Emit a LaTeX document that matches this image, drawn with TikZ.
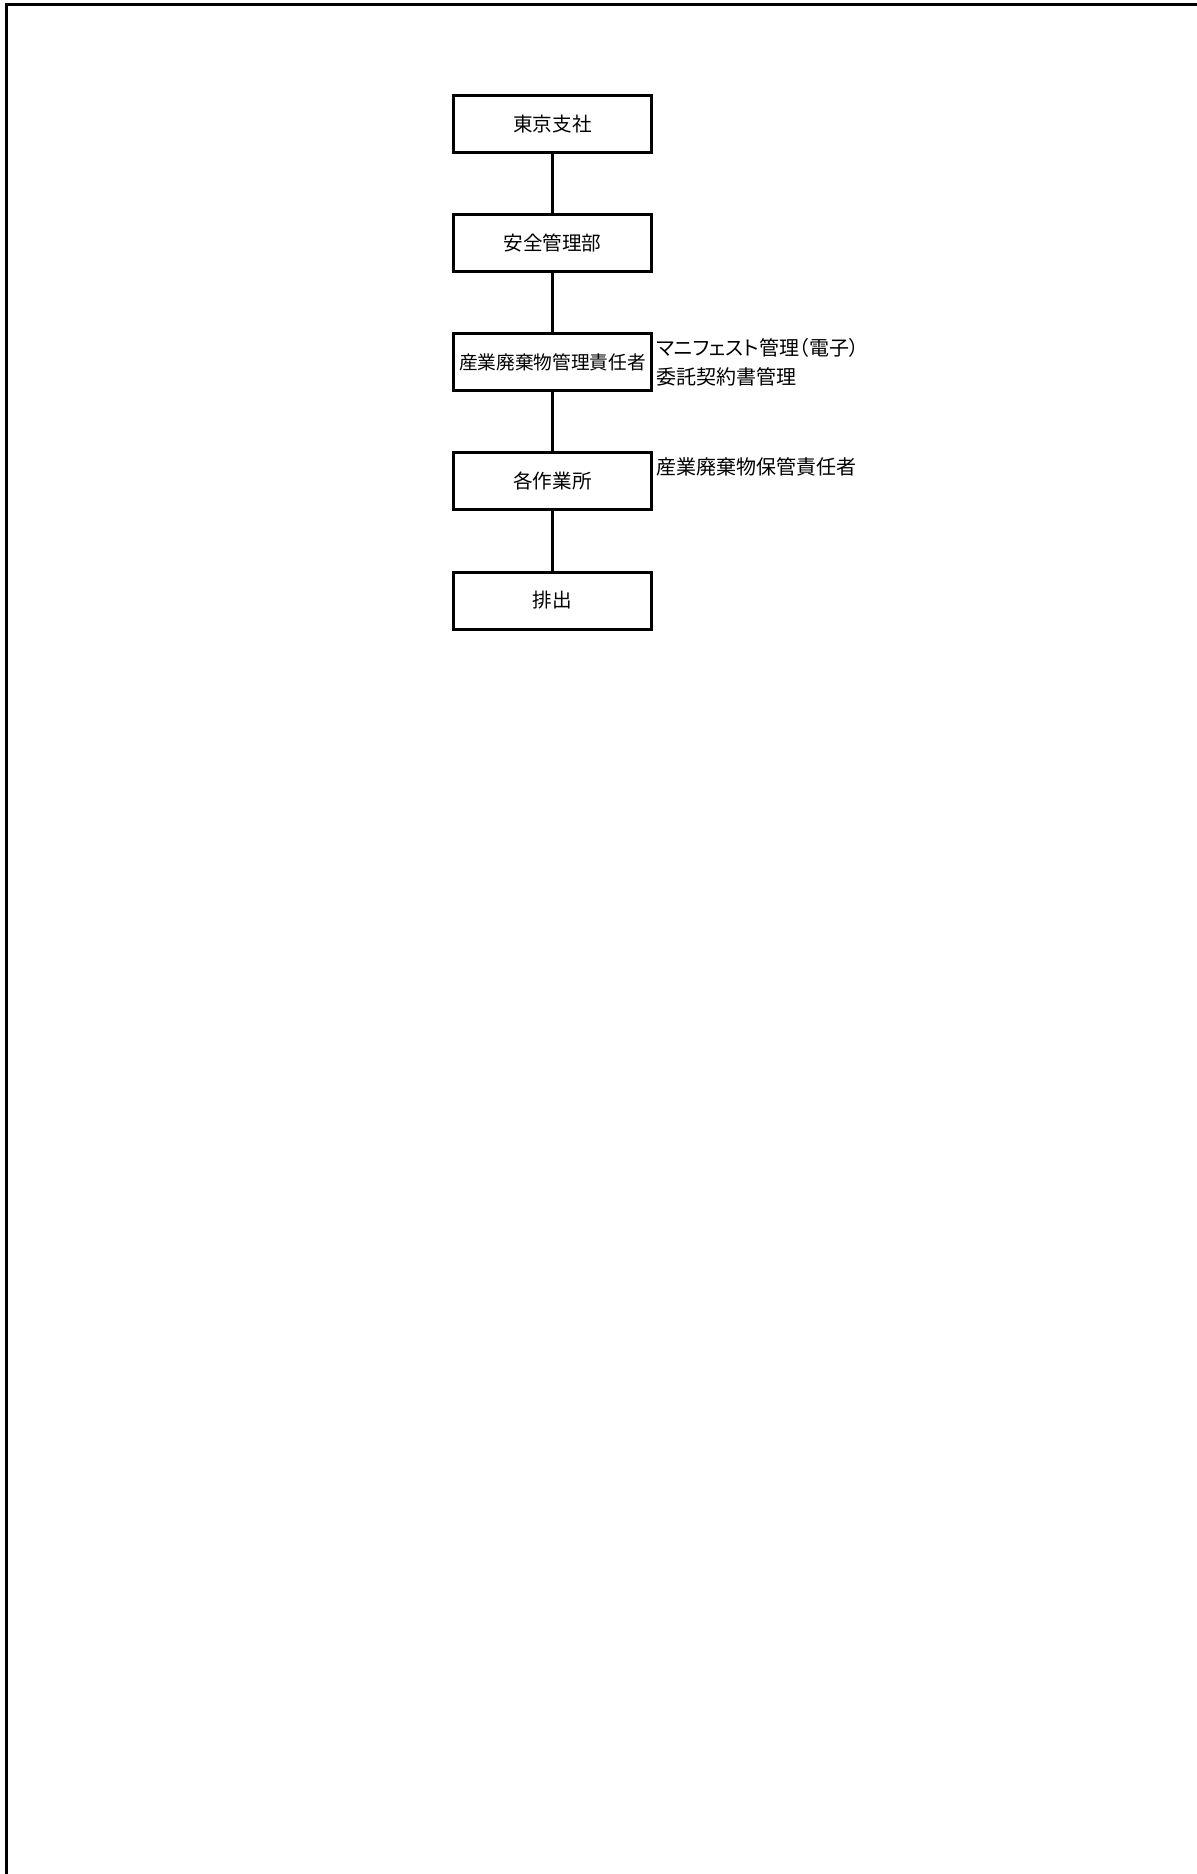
\documentclass[tikz,border=0pt]{standalone}
\usepackage{fontspec}
\setmainfont{Noto Sans CJK JP}[RawFeature=+palt]
\newfontfamily\cjk{Noto Sans CJK JP}[RawFeature=+palt]
\begin{document}
\begin{tikzpicture}[x=0.5pt,y=-0.5pt,
  orgbox/.style={draw,line width=1.5pt,minimum width=99pt,minimum height=28.5pt,inner sep=0pt,font=\cjk\fontsize{9.8pt}{11pt}\selectfont},
  note/.style={anchor=west,inner sep=0pt,font=\cjk\fontsize{10pt}{11pt}\selectfont},
  link/.style={line width=1.5pt}]
\useasboundingbox (0,0) rectangle (1196,1874);
\draw[line width=1.5pt] (6,1880) -- (6,4.5) -- (1200,4.5);
\node[orgbox] (tokyo) at (552.5,124) {東京支社};
\node[orgbox] (anzen) at (552.5,243) {安全管理部};
\node[orgbox,font=\cjk\fontsize{9.35pt}{11pt}\selectfont] (sekinin) at (552.5,362) {産業廃棄物管理責任者};
\node[orgbox] (sagyo) at (552.5,481) {各作業所};
\node[orgbox] (haishutsu) at (552.5,600.5) {排出};
\draw[link] (tokyo) -- (anzen);
\draw[link] (anzen) -- (sekinin);
\draw[link] (sekinin) -- (sagyo);
\draw[link] (sagyo) -- (haishutsu);
\node[note] (n1) at (656,348) {マニフェスト管理（電子）};
\node[note] (n2) at (656,377) {委託契約書管理};
\node[note] (n3) at (656,467) {産業廃棄物保管責任者};
\end{tikzpicture}
\end{document}
